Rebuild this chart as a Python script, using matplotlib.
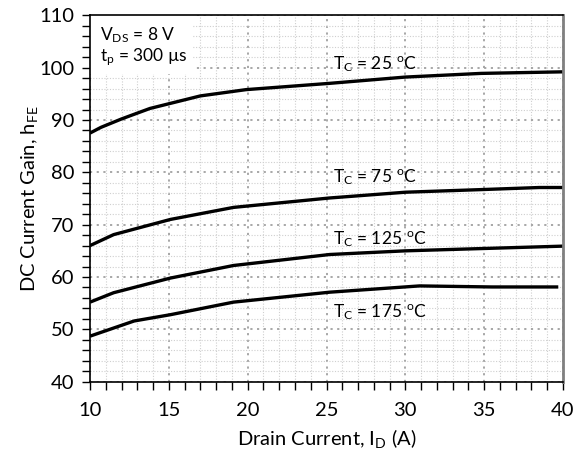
import matplotlib
matplotlib.use("Agg")
import matplotlib.pyplot as plt
from matplotlib.ticker import MultipleLocator
from matplotlib.patches import Rectangle

plt.rcParams['font.family'] = ['Lato', 'DejaVu Sans']
plt.rcParams['mathtext.fontset'] = 'custom'
plt.rcParams['mathtext.rm'] = 'Lato'
plt.rcParams['mathtext.it'] = 'Lato'

# Data
x_25 = [10, 10.7, 12, 13.8, 17.0, 19.9, 25.2, 30.0, 34.8, 40]
y_25 = [87.5, 88.6, 90.2, 92.2, 94.6, 95.8, 97.0, 98.2, 98.9, 99.2]

x_75 = [10, 11.5, 15.1, 19.1, 25.2, 30.0, 34.8, 38.5, 40]
y_75 = [66.0, 68.1, 71.0, 73.3, 75.1, 76.2, 76.7, 77.1, 77.1]

x_125 = [10, 11.5, 15.1, 19.1, 25.2, 30.0, 40]
y_125 = [55.2, 57.0, 59.8, 62.2, 64.3, 65.0, 65.9]

x_175 = [10, 12.8, 15.1, 19.1, 25.2, 30.9, 35.5, 39.7]
y_175 = [48.7, 51.6, 52.8, 55.2, 57.1, 58.3, 58.1, 58.1]

series = [(x_25, y_25), (x_75, y_75), (x_125, y_125), (x_175, y_175)]
labels = [r'T$_\mathrm{C}$ = 25$\ ^\mathrm{o}$C', r'T$_\mathrm{C}$ = 75$\ ^\mathrm{o}$C',
          r'T$_\mathrm{C}$ = 125$\ ^\mathrm{o}$C', r'T$_\mathrm{C}$ = 175$\ ^\mathrm{o}$C']
label_pos = [(25.4, 100.6), (25.4, 79.0), (25.4, 67.2), (25.4, 53.2)]

xticks = [10, 15, 20, 25, 30, 35, 40]
yticks = [40, 50, 60, 70, 80, 90, 100, 110]

fig = plt.figure(figsize=(5.8, 4.57), dpi=100)
ax = fig.add_axes([90/580, 1-381.7/457, (563-90)/580, (381.7-15.3)/457])

ax.set_xlim(10, 40)
ax.set_ylim(40, 110)
ax.set_xticks(xticks)
ax.set_yticks(yticks)
ax.xaxis.set_minor_locator(MultipleLocator(1))
ax.yaxis.set_minor_locator(MultipleLocator(2))

ax.grid(which='major', color='#a0a0a0', linestyle=(0, (1.2, 2.5)), linewidth=1.3, zorder=0)
ax.grid(which='minor', color='#cfcfcf', linestyle=(0, (1, 1.5)), linewidth=0.8, zorder=0)

ax.tick_params(which='both', direction='out', length=5.5, width=1, color='black')
ax.tick_params(axis='x', which='major', labelsize=14.5, pad=9)
ax.tick_params(axis='y', which='major', labelsize=14.5, pad=6)

for (xs, ys) in series:
    ax.plot(xs, ys, color='black', linewidth=2.4, solid_capstyle='butt', zorder=3)

for lab, (lx, ly) in zip(labels, label_pos):
    ax.text(lx, ly, lab, fontsize=12.5, ha='left', va='center', zorder=4)

ax.add_patch(Rectangle((0, 0.84), 0.218, 0.16, transform=ax.transAxes,
                       facecolor='white', edgecolor='none', zorder=2))
ax.text(0.021, 0.946, 'V$_\\mathrm{DS}$ = 8 V', transform=ax.transAxes,
        fontsize=12.5, ha='left', va='center', zorder=5)
ax.text(0.021, 0.886, 't$_\\mathrm{p}$ = 300 µs', transform=ax.transAxes,
        fontsize=12.5, ha='left', va='center', zorder=5)

ax.set_xlabel('Drain Current, I$_\\mathrm{D}$ (A)', fontsize=14.5, labelpad=6)
ax.set_ylabel('DC Current Gain, h$_\\mathrm{FE}$', fontsize=14.5, labelpad=-1)

for s in ax.spines.values():
    s.set_linewidth(1.2)
    s.set_zorder(6)
ax.spines['right'].set_color('#808080')
ax.spines['right'].set_linewidth(2)

fig.savefig('out.png', dpi=100)
